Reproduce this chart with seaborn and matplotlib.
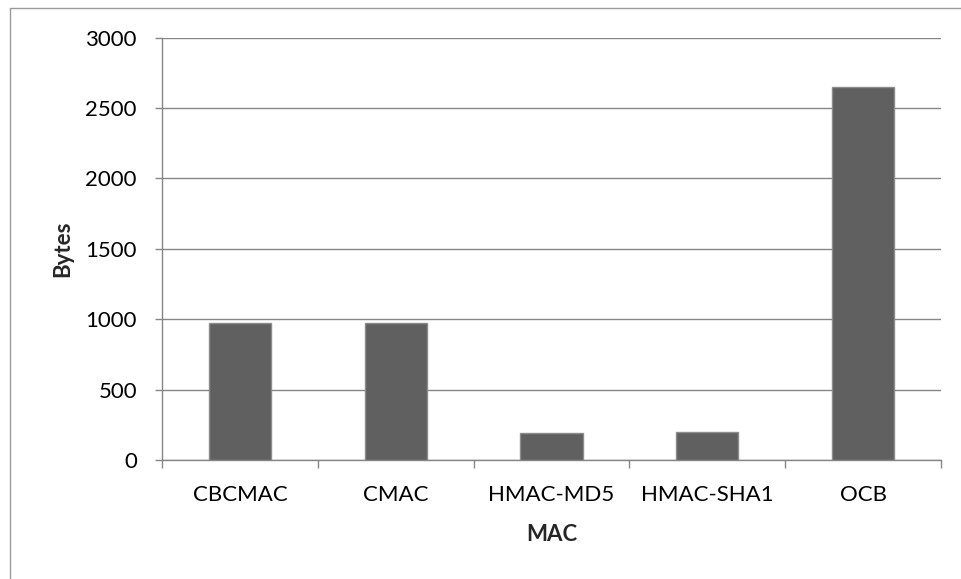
import matplotlib
matplotlib.use("Agg")
import matplotlib.pyplot as plt
from matplotlib.lines import Line2D
import seaborn as sns
import pandas as pd

# Memory footprint of each MAC implementation
macs = ["CBCMAC", "CMAC", "HMAC-MD5", "HMAC-SHA1", "OCB"]
bytes_used = [970, 970, 195, 200, 2650]
y_ticks = [0, 500, 1000, 1500, 2000, 2500, 3000]

df = pd.DataFrame({"MAC": macs, "Bytes": bytes_used})

sns.set_theme(style="white")
plt.rcParams["font.family"] = ["Lato", "DejaVu Sans"]

W, H = 961, 579
fig = plt.figure(figsize=(W / 100, H / 100), dpi=100)
ax = fig.add_axes([162 / W, (H - 460) / H, (941 - 162) / W, (460 - 37.5) / H])

axis_grey = "#868686"
fs = 16

sns.barplot(data=df, x="MAC", y="Bytes", order=macs, color="#606060",
            width=0.4, saturation=1, edgecolor="#8c8c8c", linewidth=1.0,
            ax=ax, zorder=3)

ax.set_xlim(-0.5, len(macs) - 0.5)
ax.set_ylim(0, 3000)
ax.set_yticks(y_ticks)
ax.set_yticklabels([str(t) for t in y_ticks])
ax.yaxis.grid(True, color=axis_grey, linewidth=1.0)
ax.set_axisbelow(True)

# category labels centred, tick marks on the category boundaries
ax.set_xticks(range(len(macs)))
ax.set_xticklabels(macs)
ax.set_xticks([i - 0.5 for i in range(len(macs) + 1)], minor=True)
ax.tick_params(axis="x", which="major", length=0, pad=18, labelsize=fs,
               labelcolor="black")
ax.tick_params(axis="x", which="minor", length=6, width=1.0, color=axis_grey,
               direction="out", bottom=True)
ax.tick_params(axis="y", which="major", length=5, width=1.0, color=axis_grey,
               direction="out", left=True, pad=13, labelsize=fs,
               labelcolor="black")

for side in ("top", "right"):
    ax.spines[side].set_visible(False)
for side in ("left", "bottom"):
    ax.spines[side].set_color(axis_grey)
    ax.spines[side].set_linewidth(1.0)

ax.set_xlabel("MAC", fontsize=fs, fontweight="bold", labelpad=14)
ax.set_ylabel("Bytes", fontsize=fs, fontweight="bold", labelpad=9)

# chart frame along the left and top edges
frame_col = "#9a9a9a"
fig.add_artist(Line2D([10 / W, 10 / W], [0, 1 - 8 / H], transform=fig.transFigure,
                      color=frame_col, linewidth=1.0))
fig.add_artist(Line2D([10 / W, 1], [1 - 8 / H, 1 - 8 / H], transform=fig.transFigure,
                      color=frame_col, linewidth=1.0))

fig.savefig("out.png", dpi=100, facecolor="white")
